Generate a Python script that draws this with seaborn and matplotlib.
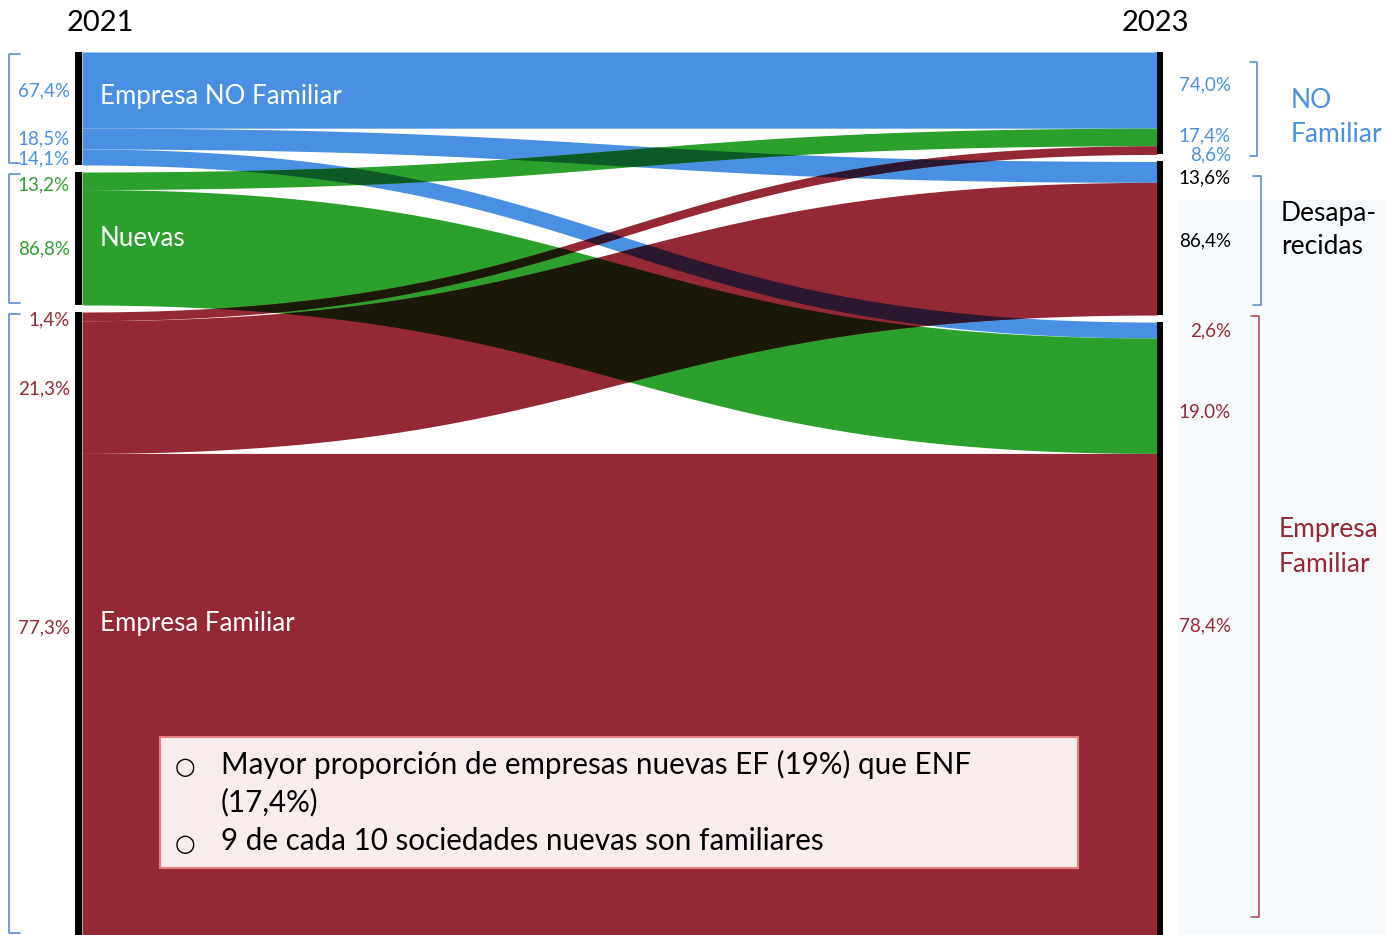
import numpy as np
import matplotlib
matplotlib.use("Agg")
import matplotlib.pyplot as plt
from matplotlib.colors import to_rgb
from matplotlib.patches import Rectangle
from itertools import combinations
import seaborn as sns

# groups in 2021 (left) and 2023 (right)
left_nodes = ["Empresa NO Familiar", "Nuevas", "Empresa Familiar"]
right_nodes = ["NO\nFamiliar", "Desapa-\nrecidas", "Empresa\nFamiliar"]
years = ["2021", "2023"]

# relative size of each 2021 group
left_size = [113, 133, 623]

# % of each 2021 group going to [NO Familiar, Desaparecidas, Empresa Familiar]
share_enf = [67.4, 18.5, 14.1]
share_new = [13.2, 0.0, 86.8]
share_ef = [1.4, 21.3, 77.3]

# labels, left in source order, right in destination order
left_pct = ["67,4%", "18,5%", "14,1%", "13,2%", "86,8%", "1,4%", "21,3%", "77,3%"]
right_pct = ["74,0%", "17,4%", "8,6%", "13,6%", "86,4%", "2,6%", "19.0%", "78,4%"]

note_lines = ["Mayor proporción de empresas nuevas EF (19%) que ENF",
              "(17,4%)",
              "9 de cada 10 sociedades nuevas son familiares"]
note_bullet = [True, False, True]

colors = ["#4a90e2", "#2ca02c", "#952835"]

sns.set_theme(style="white")
plt.rcParams['font.family'] = ['Lato', 'DejaVu Sans']

fig = plt.figure(figsize=(13.97, 9.35), dpi=100)
ax = fig.add_axes([0, 0, 1, 1])
ax.set_xlim(0, 1397)
ax.set_ylim(935, 0)
ax.axis('off')

# layout
y_top, y_bot, gap = 52, 935, 7
x0, x1 = 82, 1157
# small vertical nudges of the % labels (pixels)
left_nudge = [1, 0, 2, 4, 2, 4, 2, 0]
right_nudge = [-5, -1, 5, 6, -8, 1, 17, 0]

shares = np.array([share_enf, share_new, share_ef]) / 100
flow = shares * np.array(left_size)[:, None]
scale = (y_bot - y_top - 2 * gap) / flow.sum()
flow = flow * scale

def stack(totals):
    tops = []
    y = y_top
    for t in totals:
        tops.append(y)
        y += t + gap
    return tops

left_tot = flow.sum(axis=1)
right_tot = flow.sum(axis=0)
left_top = stack(left_tot)
right_top = stack(right_tot)

# flow positions on both sides
left_off = list(left_top)
right_off = list(right_top)
bands = []
for i in range(3):
    for j in range(3):
        v = flow[i, j]
        if v <= 0:
            continue
        bands.append((i, j, left_off[i], right_off[j], v))
        left_off[i] += v
        right_off[j] += v

# smooth s-shaped link (cubic bezier, controls at mid-width)
s = np.linspace(0, 1, 3001)
bx = 1.5 * s * (1 - s) + s ** 3
by = 3 * s ** 2 - 2 * s ** 3
t = np.linspace(0, 1, 900)
ease = np.interp(t, bx, by)
xs = x0 + (x1 - x0) * t

los, his, cols = [], [], []
for i, j, ly, ry, v in bands:
    lo = ly + (ry - ly) * ease
    los.append(lo)
    his.append(lo + v)
    cols.append(np.array(to_rgb(colors[i])))

ax.add_patch(Rectangle((1178, 200), 207, 735, color="#f7fafd", lw=0, zorder=0))

for lo, hi, c in zip(los, his, cols):
    ax.fill_between(xs, lo, hi, color=c, lw=0, zorder=1)

# overlapping parts are drawn as multiplied colours
n = len(bands)
for r in range(2, n + 1):
    for combo in combinations(range(n), r):
        lo = np.max([los[k] for k in combo], axis=0)
        hi = np.min([his[k] for k in combo], axis=0)
        mask = hi - lo > 1e-6
        if not mask.any():
            continue
        c = np.prod([cols[k] for k in combo], axis=0)
        ax.fill_between(xs, lo, hi, where=mask, interpolate=True, color=c, lw=0, zorder=1 + r)

# node bars
for k in range(3):
    ax.add_patch(Rectangle((75, left_top[k]), 7, left_tot[k], color="black", lw=0, zorder=20))
    ax.add_patch(Rectangle((1157, right_top[k]), 6, right_tot[k], color="black", lw=0, zorder=20))

# percentage labels
for k, (i, j, ly, ry, v) in enumerate(bands):
    yl = ly + v / 2
    if i == 2 and j == 2:
        yl = left_top[2] + left_tot[2] / 2 + 4
    ax.text(70, yl + left_nudge[k], left_pct[k], ha="right", va="center", fontsize=13.5, color=colors[i])

right_order = sorted(range(len(bands)), key=lambda k: (bands[k][1], bands[k][0]))
right_col = [colors[0], "black", colors[2]]
for m, (lab, k) in enumerate(zip(right_pct, right_order)):
    i, j, ly, ry, v = bands[k]
    yr = ry + v / 2
    if i == 2 and j == 2:
        yr = right_top[2] + right_tot[2] / 2 - 3
    ax.text(1231, yr + right_nudge[m], lab, ha="right", va="center", fontsize=13.5, color=right_col[j])

# node names
for k in range(3):
    yl = left_top[k] + left_tot[k] / 2
    if k == 0:
        yl = left_top[0] + flow[0, 0] / 2 + 6
    ax.text(100, yl, left_nodes[k], ha="left", va="center", fontsize=18.6, color="white", zorder=30)

right_xy = [(1291, 117), (1281, 230), (1279, 547)]
for k in range(3):
    ax.text(right_xy[k][0], right_xy[k][1], right_nodes[k], ha="left", va="center",
            fontsize=19, color=right_col[k], linespacing=1.45)

ax.text(100, 23, years[0], ha="center", va="center", fontsize=21, color="black")
ax.text(1155, 23, years[1], ha="center", va="center", fontsize=21, color="black")

# brackets
def bracket(x, ya, yb, dx, color):
    ax.plot([x + dx, x, x, x + dx], [ya, ya, yb, yb], color=color, lw=1.2, zorder=5)

for k in range(3):
    bracket(9, left_top[k] + 2, left_top[k] + left_tot[k] - 2, 11, "#5b8fd0")
bracket(1257, 62, 156, -7, "#5b8fd0")
bracket(1261, 176, 305, -8, "#5b8fd0")
bracket(1259, 316, 917, -8, "#b5505f")

# note box
ax.add_patch(Rectangle((160, 737), 918, 131, facecolor="#f8eced", edgecolor="#e58080", lw=1.5, zorder=40))
ny = 764
for line, b in zip(note_lines, note_bullet):
    if b:
        ax.text(185, ny + 3, "○", ha="center", va="center", fontsize=17, color="black",
                family="DejaVu Sans", zorder=41)
    ax.text(221, ny, line, ha="left", va="center", fontsize=21.3, color="black", zorder=41)
    ny += 38.5

fig.savefig("out.png", dpi=100, facecolor="white")
